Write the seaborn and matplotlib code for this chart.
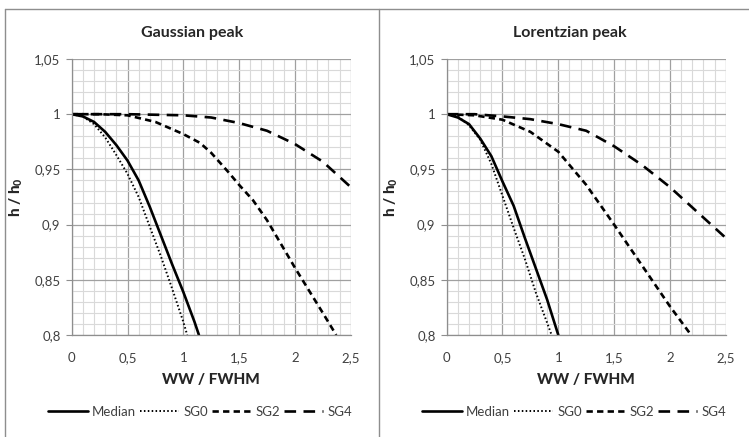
import numpy as np
import pandas as pd
import matplotlib
matplotlib.use("Agg")
import matplotlib.pyplot as plt
from matplotlib.lines import Line2D
from matplotlib.ticker import MultipleLocator, FuncFormatter
import seaborn as sns

# Gaussian peak
gauss_median_x = [0, 0.1, 0.2, 0.3, 0.4, 0.5, 0.6, 0.7, 0.8, 0.9, 1.0, 1.1, 1.14]
gauss_median_y = [1.0, 0.998, 0.993, 0.984, 0.972, 0.958, 0.940, 0.916, 0.890, 0.864, 0.839, 0.812, 0.8]
gauss_sg0_x = [0, 0.1, 0.2, 0.3, 0.4, 0.5, 0.6, 0.7, 0.8, 0.9, 1.0, 1.035]
gauss_sg0_y = [1.0, 0.998, 0.991, 0.979, 0.963, 0.946, 0.925, 0.898, 0.871, 0.842, 0.812, 0.8]
gauss_sg2_x = [0, 0.25, 0.5, 0.75, 1.0, 1.15, 1.25, 1.4, 1.5, 1.625, 1.75, 2.0, 2.25, 2.37]
gauss_sg2_y = [1.0, 1.0, 0.999, 0.993, 0.982, 0.974, 0.965, 0.948, 0.936, 0.922, 0.904, 0.861, 0.82, 0.8]
gauss_sg4_x = [0, 0.5, 0.75, 1.0, 1.25, 1.5, 1.75, 2.0, 2.25, 2.5]
gauss_sg4_y = [1.0, 1.0, 0.9995, 0.999, 0.997, 0.992, 0.985, 0.973, 0.957, 0.934]

# Lorentzian peak
lor_median_x = [0, 0.1, 0.2, 0.3, 0.4, 0.5, 0.6, 0.7, 0.8, 0.9, 1.0]
lor_median_y = [1.0, 0.997, 0.991, 0.978, 0.962, 0.939, 0.917, 0.888, 0.860, 0.832, 0.8]
lor_sg0_x = [0, 0.1, 0.2, 0.3, 0.4, 0.5, 0.6, 0.7, 0.8, 0.9, 0.94]
lor_sg0_y = [1.0, 0.998, 0.990, 0.977, 0.955, 0.926, 0.897, 0.869, 0.838, 0.811, 0.8]
lor_sg2_x = [0, 0.25, 0.5, 0.75, 1.0, 1.25, 1.5, 1.75, 2.0, 2.19]
lor_sg2_y = [1.0, 0.999, 0.995, 0.984, 0.966, 0.936, 0.900, 0.863, 0.826, 0.8]
lor_sg4_x = [0, 0.25, 0.5, 0.75, 1.0, 1.25, 1.5, 1.75, 2.0, 2.25, 2.5]
lor_sg4_y = [1.0, 1.0, 0.998, 0.9955, 0.991, 0.985, 0.971, 0.954, 0.934, 0.911, 0.888]

titles = ["Gaussian peak", "Lorentzian peak"]
series_names = ["Median", "SG0", "SG2", "SG4"]

sns.set_style("white")
plt.rcParams["font.family"] = ["Lato", "DejaVu Sans"]
plt.rcParams["mathtext.fontset"] = "custom"
plt.rcParams["mathtext.rm"] = "Lato:black"
plt.rcParams["mathtext.it"] = "Lato:black"
plt.rcParams["mathtext.bf"] = "Lato:black"

styles = {
    "Median": dict(linestyle="-", lw=1.9),
    "SG0": dict(linestyle=(0, (0.8, 1.2)), lw=1.4),
    "SG2": dict(linestyle=(0, (2.4, 1.6)), lw=1.9),
    "SG4": dict(linestyle=(0, (4.4, 2.8)), lw=1.9),
}

panels = [
    {"Median": (gauss_median_x, gauss_median_y), "SG0": (gauss_sg0_x, gauss_sg0_y),
     "SG2": (gauss_sg2_x, gauss_sg2_y), "SG4": (gauss_sg4_x, gauss_sg4_y)},
    {"Median": (lor_median_x, lor_median_y), "SG0": (lor_sg0_x, lor_sg0_y),
     "SG2": (lor_sg2_x, lor_sg2_y), "SG4": (lor_sg4_x, lor_sg4_y)},
]

W, H = 749, 437
fig = plt.figure(figsize=(W / 100, H / 100), dpi=100)

# chart area borders (Excel style)
border = "#8e8e8e"
fig.add_artist(Line2D([5 / W, 1], [1 - 9 / H, 1 - 9 / H], color=border, lw=1))
fig.add_artist(Line2D([5 / W, 5 / W], [0, 1 - 9 / H], color=border, lw=1))
fig.add_artist(Line2D([379 / W, 379 / W], [0, 1 - 9 / H], color=border, lw=1))

axes_left = [71.7, 446.7]
title_x = [192, 570]
legend_x = [200, 574]
comma = FuncFormatter(lambda v, p: ("%g" % round(v, 3)).replace(".", ","))

for i, ax_left in enumerate(axes_left):
    ax = fig.add_axes([ax_left / W, 1 - 335 / H, 279 / W, 276 / H])
    for name in series_names:
        xs, ys = panels[i][name]
        df = pd.DataFrame({"x": xs, "y": ys})
        sns.lineplot(data=df, x="x", y="y", ax=ax, color="black", estimator=None,
                     sort=False, label=name, **styles[name])
    ax.set_xlim(0, 2.5)
    ax.set_ylim(0.8, 1.05)
    ax.xaxis.set_major_locator(MultipleLocator(0.5))
    ax.xaxis.set_minor_locator(MultipleLocator(0.1))
    ax.yaxis.set_major_locator(MultipleLocator(0.05))
    ax.yaxis.set_minor_locator(MultipleLocator(0.01))
    ax.xaxis.set_major_formatter(comma)
    ax.yaxis.set_major_formatter(comma)
    ax.grid(which="minor", color="#d9d9d9", lw=0.8)
    ax.grid(which="major", color="#a0a0a0", lw=0.9)
    ax.set_axisbelow(True)
    for s in ["top", "right"]:
        ax.spines[s].set_visible(False)
    for s in ["left", "bottom"]:
        ax.spines[s].set_color("#8e8e8e")
        ax.spines[s].set_linewidth(0.9)
    ax.tick_params(axis="y", which="major", direction="out", length=4, color="#8e8e8e",
                   labelsize=9.5, pad=4, left=True, labelcolor="#404040")
    ax.tick_params(axis="x", which="major", length=0, labelsize=9.5, pad=12,
                   labelcolor="#404040")
    ax.tick_params(which="minor", length=0)
    fig.text(title_x[i] / W, 1 - 33 / H, titles[i], fontsize=11.5, fontweight="bold",
             ha="center", va="center")
    ax.set_xlabel("WW / FWHM", fontsize=11, fontweight="black", labelpad=7)
    ax.set_ylabel("h / h$_0$", fontsize=11, fontweight="black", labelpad=7)
    ax.legend(loc="center", bbox_to_anchor=(legend_x[i] / W, 1 - 412 / H),
              bbox_transform=fig.transFigure, ncol=4, frameon=False,
              fontsize=9.5, handlelength=3.0, handletextpad=0.3, columnspacing=0.3,
              labelcolor="#404040")

fig.savefig("out.png", dpi=100)
